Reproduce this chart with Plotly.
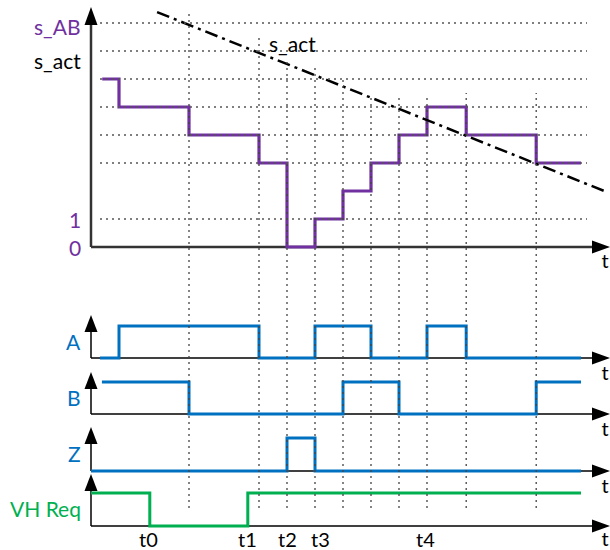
import plotly.graph_objects as go

# ---------------- data ----------------
# time axis in steps of the position counter (t = 0 at the vertical axis)
s_ab_t = [0.4, 1.0, 3.5, 6.0, 7.0, 8.0, 9.0, 10.0, 11.0, 12.0, 13.4, 15.9, 17.5]
s_ab = [6, 5, 4, 3, 0, 1, 2, 3, 4, 5, 4, 3, 3]
s_act_t = [2.36, 18.43]
s_act = [8.39, 1.96]
a_t = [0.32, 1.0, 6.0, 8.0, 10.0, 12.0, 13.4, 17.5]
a_v = [0, 1, 0, 1, 0, 1, 0, 0]
b_t = [0.39, 3.5, 9.0, 11.0, 15.9, 17.5]
b_v = [1, 0, 1, 0, 1, 1]
z_t = [0.0, 7.0, 8.0, 17.5]
z_v = [0, 1, 0, 0]
vh_t = [0.0, 2.1, 5.6, 17.5]
vh_v = [1, 0, 1, 1]
event_labels = ["t0", "t1", "t2", "t3", "t4"]
event_t = [2.05, 5.6, 7.0, 8.2, 11.95]
edge_t = [3.5, 6.0, 7.0, 8.0, 9.0, 10.0, 11.0, 12.0, 13.4, 15.9]
edge_top = [8.4, 7.6, 6.7, 6.4, 6.0, 5.45, 5.45, 5.45, 5.5, 5.5]
grid_levels = [1, 3, 4, 5, 6, 7, 8]
level_ticks = ["0", "1"]
axis_label = "t"

# ---------------- layout constants (page pixels) ----------------
PAGE_W, PAGE_H = 610, 550
OFF = 0                                  # page margin is removed below
W, H = PAGE_W - OFF, PAGE_H - OFF        # figure size
X0, UX = 91, 28.0                        # page px of t=0, px per time step
TOP_BASE, TOP_U = 247, 28.0
rows = {  # name: (baseline px, high px, arrow tip px)
    "A": (358, 326, 315),
    "B": (414, 382, 372),
    "Z": (471, 438, 427),
    "VH Req": (526, 493, 474),
}
PURPLE = "#7030A0"
BLUE = "#0070C0"
GREEN = "#00B050"
FONT = "Lato"
FS = 21


def px(x):
    return (x - OFF) / W


def py(y):
    return 1 - (y - OFF) / H


def yrange(base, unit):
    b = base - OFF
    return [(b - H) / unit, b / unit]


def tx(x):
    return (x - X0) / UX


fig = go.Figure()

# top panel
fig.add_trace(go.Scatter(x=s_ab_t, y=s_ab, mode="lines", line=dict(color=PURPLE, width=3.2, shape="hv"),
                         yaxis="y", hoverinfo="skip"))
fig.add_trace(go.Scatter(x=s_act_t, y=s_act, mode="lines",
                         line=dict(color="black", width=2.5, dash="13px,5px,3px,5px"),
                         yaxis="y", hoverinfo="skip"))

signals = [("A", a_t, a_v, BLUE, "y2"), ("B", b_t, b_v, BLUE, "y3"),
           ("Z", z_t, z_v, BLUE, "y4"), ("VH Req", vh_t, vh_v, GREEN, "y5")]
for name, t, v, col, ax in signals:
    fig.add_trace(go.Scatter(x=t, y=v, mode="lines", line=dict(color=col, width=3, shape="hv"),
                             yaxis=ax, hoverinfo="skip"))

# "t" labels at the end of each time axis
t_label_pos = [(TOP_BASE, TOP_U, TOP_BASE + 16, "y")]
for i, (name, (base, high, tip)) in enumerate(rows.items()):
    t_label_pos.append((base, base - high, min(base + 17, 541), f"y{i+2}"))
for base, unit, ty, ax in t_label_pos:
    fig.add_trace(go.Scatter(x=[tx(605)], y=[(base - ty) / unit], mode="text", text=[axis_label],
                             textposition="middle center", cliponaxis=False, yaxis=ax, hoverinfo="skip",
                             textfont=dict(family=FONT, size=FS - 1, color="black")))

shapes = []
annotations = []

# horizontal grid lines top panel
for lv in grid_levels:
    shapes.append(dict(type="line", xref="x", yref="y", x0=tx(100), x1=tx(587),
                       y0=lv, y1=lv, line=dict(color="#555555", width=1.3, dash="2px,4px"), layer="above"))
# vertical guide lines
for t, top in zip(edge_t, edge_top):
    shapes.append(dict(type="line", xref="x", yref="y", x0=t, x1=t, y0=(TOP_BASE - 508) / TOP_U, y1=top,
                       line=dict(color="#444444", width=1.3, dash="2px,4px"), layer="above"))


def arrow_axes(base, tip, lw, col, hsize):
    shapes.append(dict(type="line", xref="paper", yref="paper", x0=px(X0), x1=px(X0),
                       y0=py(base), y1=py(tip + 10), line=dict(color=col, width=lw), layer="below"))
    shapes.append(dict(type="path", xref="paper", yref="paper",
                       path=f"M {px(X0-6.5)} {py(tip+hsize)} L {px(X0+6.5)} {py(tip+hsize)} L {px(X0)} {py(tip)} Z",
                       fillcolor="black", line=dict(width=0), layer="below"))
    shapes.append(dict(type="line", xref="paper", yref="paper", x0=px(X0), x1=px(PAGE_W - 10),
                       y0=py(base), y1=py(base), line=dict(color=col, width=lw), layer="below"))
    shapes.append(dict(type="path", xref="paper", yref="paper",
                       path=f"M {px(PAGE_W-18)} {py(base-6.5)} L {px(PAGE_W-18)} {py(base+6.5)} L {px(PAGE_W)} {py(base)} Z",
                       fillcolor="black", line=dict(width=0), layer="below"))


arrow_axes(TOP_BASE, 7, 2.5, "#333333", 18)
for name, (base, high, tip) in rows.items():
    arrow_axes(base, tip, 1.5, "black", 17)

# labels
annotations.append(dict(x=px(83), y=py(27), xref="paper", yref="paper", text="s_AB", showarrow=False,
                        xanchor="right", yanchor="middle", font=dict(family=FONT, size=FS, color=PURPLE)))
annotations.append(dict(x=px(83), y=py(60), xref="paper", yref="paper", text="s_act", showarrow=False,
                        xanchor="right", yanchor="middle", font=dict(family=FONT, size=FS, color="black")))
annotations.append(dict(x=px(292), y=py(44), xref="paper", yref="paper", text="s_act", showarrow=False,
                        xanchor="center", yanchor="middle", font=dict(family=FONT, size=FS, color="black")))
for i, lab in enumerate(level_ticks):
    annotations.append(dict(x=px(83), y=i, xref="paper", yref="y", text=lab, showarrow=False,
                            xanchor="right", yanchor="middle", font=dict(family=FONT, size=FS, color=PURPLE)))
label_colors = {"A": BLUE, "B": BLUE, "Z": BLUE, "VH Req": GREEN}
for name, (base, high, tip) in rows.items():
    annotations.append(dict(x=px(83), y=py((base + high) / 2 - 1), xref="paper", yref="paper", text=name,
                            showarrow=False, xanchor="right", yanchor="middle",
                            font=dict(family=FONT, size=FS, color=label_colors[name])))
for lab, t in zip(event_labels, event_t):
    annotations.append(dict(x=t, y=py(539), xref="x", yref="paper", text=lab, showarrow=False,
                            xanchor="center", yanchor="middle", borderpad=0,
                            font=dict(family=FONT, size=FS - 1, color="black")))

layout_axes = {}
for i, name in enumerate(rows):
    base, high, tip = rows[name]
    layout_axes[f"yaxis{i+2}"] = dict(overlaying="y", range=yrange(base, base - high), visible=False,
                                      fixedrange=True)

fig.update_layout(
    width=W, height=H, margin=dict(l=0, r=0, t=0, b=0, pad=0),
    paper_bgcolor="white", plot_bgcolor="white", showlegend=False,
    xaxis=dict(range=[tx(OFF), tx(PAGE_W)], visible=False, fixedrange=True),
    yaxis=dict(range=yrange(TOP_BASE, TOP_U), visible=False, fixedrange=True),
    shapes=shapes, annotations=annotations,
    **layout_axes,
)

fig.write_html("out.html", config={"displayModeBar": False},
               post_script="document.body.style.margin='0';document.body.style.overflow='hidden';")
